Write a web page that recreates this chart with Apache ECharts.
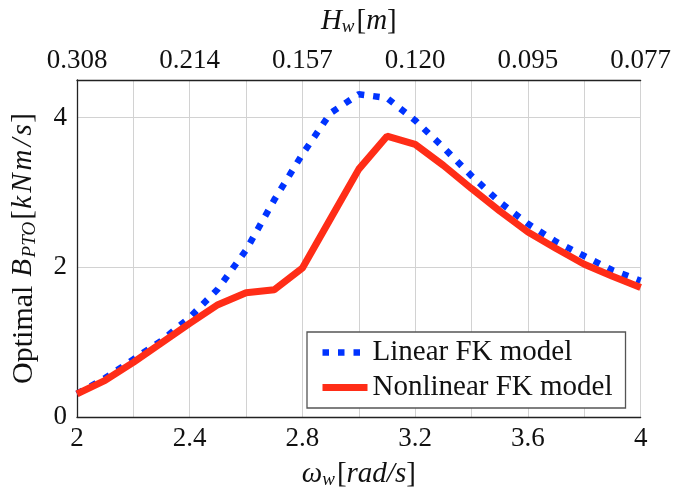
<!DOCTYPE html>
<html>
<head>
<meta charset="utf-8">
<script src="https://cdn.jsdelivr.net/npm/echarts@6/dist/echarts.min.js"></script>
<style>
  html, body { margin: 0; padding: 0; background: #fff; }
  #chart { width: 674px; height: 494px; }
</style>
</head>
<body>
<div id="chart"></div>
<script>
  // wave frequency [rad/s]
  const omega = [2.0, 2.1, 2.2, 2.3, 2.4, 2.5, 2.6, 2.7, 2.8, 2.9, 3.0,
    3.1, 3.2, 3.3, 3.4, 3.5, 3.6, 3.7, 3.8, 3.9, 4.0]
  // optimal B_PTO [kNm/s]
  const linearFK = [0.31, 0.52, 0.77, 1.02, 1.33, 1.71, 2.23, 2.90, 3.51, 4.06, 4.31,
    4.26, 3.96, 3.60, 3.22, 2.87, 2.58, 2.34, 2.15, 1.96, 1.82]
  const nonlinearFK = [0.31, 0.49, 0.73, 0.99, 1.25, 1.50, 1.66, 1.70, 1.99, 2.65, 3.31,
    3.75, 3.64, 3.36, 3.05, 2.75, 2.47, 2.25, 2.04, 1.88, 1.73]
  const bottomLabels = ['2', '2.4', '2.8', '3.2', '3.6', '4']
  const topLabels = ['0.308', '0.214', '0.157', '0.120', '0.095', '0.077']

  const serif = 'Liberation Serif'
  const fs = 27
  const rich = {
    m: { fontFamily: serif, fontStyle: 'italic', fontSize: 29, lineHeight: 29, verticalAlign: 'top', color: '#111' },
    k: { fontFamily: serif, fontStyle: 'italic', fontSize: 29, lineHeight: 29, verticalAlign: 'top', padding: [0, 1.5, 0, 1.5], color: '#111' },
    t: { fontFamily: serif, fontSize: 29, lineHeight: 29, verticalAlign: 'top', color: '#111' },
    y: { fontFamily: serif, fontSize: 30, lineHeight: 30, verticalAlign: 'top', color: '#111' },
    s: { fontFamily: serif, fontStyle: 'italic', fontSize: 19, lineHeight: 19, verticalAlign: 'bottom', padding: [11, 2, 0, 0], color: '#111' }
  }
  const noSymbol = { color: 'rgba(0,0,0,0)', borderWidth: 0 }

  const chart = echarts.init(document.getElementById('chart'))
  const option = {
    animation: false,
    grid: { left: 77, right: 31, top: 80, bottom: 74 },
    legend: {
      orient: 'vertical',
      left: 307,
      top: 332,
      padding: [6, 13, 6, 12],
      itemWidth: 45,
      itemHeight: 14,
      itemGap: 6,
      itemTextGap: 11,
      borderColor: '#555',
      borderWidth: 1.3,
      backgroundColor: '#fff',
      textStyle: { fontFamily: serif, fontSize: 29, color: '#111' },
      data: [
        {
          name: 'Linear FK model',
          itemStyle: noSymbol,
          lineStyle: { color: '#0033ff', width: 6.5, type: [6.5, 9], cap: 'butt' }
        },
        {
          name: 'Nonlinear FK model',
          itemStyle: noSymbol,
          lineStyle: { color: '#ff2d17', width: 7 }
        }
      ]
    },
    xAxis: [
      {
        type: 'value',
        min: 2,
        max: 4,
        interval: 0.2,
        name: '{m|ω}{s|w}{t|[}{m|rad/s}{t|]}',
        nameLocation: 'middle',
        nameGap: 43,
        nameTextStyle: { rich: rich },
        axisLine: { lineStyle: { color: '#222', width: 1.3 } },
        axisTick: { show: false },
        axisLabel: {
          margin: 8,
          fontFamily: serif,
          fontSize: fs,
          color: '#111',
          formatter: function (v) {
            const k = Math.round((v - 2) / 0.2)
            return k % 2 === 0 ? bottomLabels[k / 2] : ''
          }
        },
        splitLine: { show: true, lineStyle: { color: '#d2d2d2', width: 1 } }
      },
      {
        type: 'value',
        position: 'top',
        min: 2,
        max: 4,
        interval: 0.4,
        name: '{m|H}{s|w}{t|[}{m|m}{t|]}',
        nameLocation: 'middle',
        nameGap: 44,
        nameTextStyle: { rich: rich },
        axisLine: { lineStyle: { color: '#222', width: 1.3 } },
        axisTick: { show: false },
        axisLabel: {
          margin: 6,
          fontFamily: serif,
          fontSize: fs,
          color: '#111',
          formatter: function (v) {
            return topLabels[Math.round((v - 2) / 0.4)]
          }
        },
        splitLine: { show: false }
      }
    ],
    yAxis: {
      type: 'value',
      min: 0,
      max: 4.5,
      interval: 2,
      name: '{y|Optimal }{k|B}{s|PTO}{t|[}{k|k}{k|N}{k|m}{k|/}{k|s}{t|]}',
      nameLocation: 'middle',
      nameGap: 38,
      nameTextStyle: { rich: rich },
      axisLine: { show: true, lineStyle: { color: '#222', width: 1.3 } },
      axisTick: { show: false },
      axisLabel: { margin: 10, fontFamily: serif, fontSize: fs, color: '#111', showMaxLabel: false },
      splitLine: { show: true, lineStyle: { color: '#d2d2d2', width: 1 } }
    },
    series: [
      {
        name: 'Linear FK model',
        type: 'line',
        showSymbol: false,
        symbol: 'none',
        color: '#0033ff',
        lineStyle: { color: '#0033ff', width: 6.5, type: [6.5, 9], cap: 'butt' },
        data: omega.map((x, i) => [x, linearFK[i]])
      },
      {
        name: 'Nonlinear FK model',
        type: 'line',
        showSymbol: false,
        symbol: 'none',
        color: '#ff2d17',
        lineStyle: { color: '#ff2d17', width: 7 },
        data: omega.map((x, i) => [x, nonlinearFK[i]])
      }
    ]
  }
  chart.setOption(option)
</script>
</body>
</html>
